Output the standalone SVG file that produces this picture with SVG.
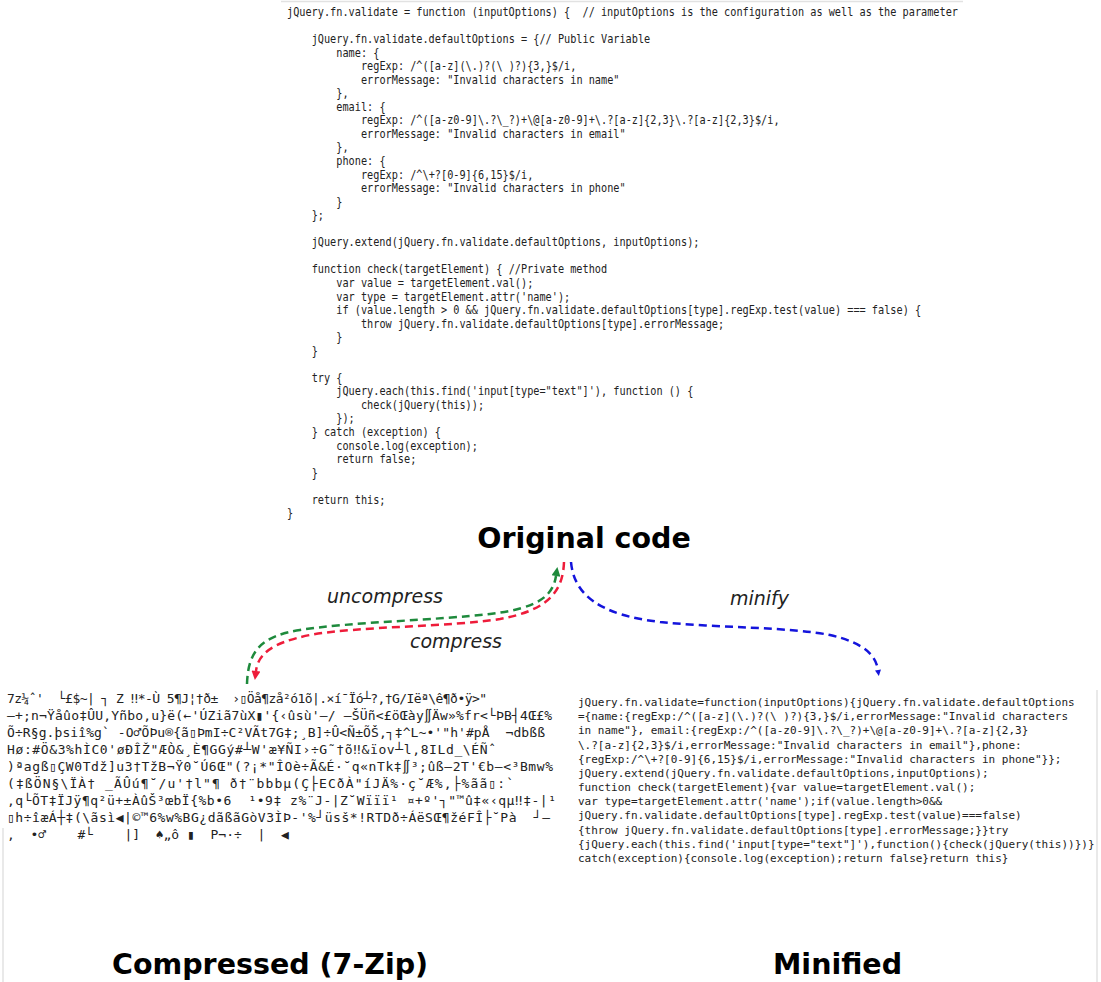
<svg xmlns="http://www.w3.org/2000/svg" width="1101" height="982" viewBox="0 0 1101 982" xml:space="preserve">
<style>
.code{font-family:"DejaVu Sans Mono","Liberation Mono",monospace;font-size:11.5px;fill:#222;white-space:pre}
.garb{font-family:"DejaVu Sans Mono","Liberation Mono",monospace;font-size:13px;fill:#222;white-space:pre}
.mini{font-family:"DejaVu Sans Mono","Liberation Mono",monospace;font-size:11px;fill:#222;white-space:pre}
.title{font-family:"DejaVu Sans","Liberation Sans",sans-serif;font-weight:bold;font-size:28.5px;fill:#000}
.lbl{font-family:"DejaVu Sans","Liberation Sans",sans-serif;font-style:italic;font-size:19px;fill:#222}
.edge{fill:none;stroke-width:2.5;stroke-dasharray:8 5}
.frame{stroke:#e2e2e2;stroke-width:1.5;fill:none}
</style>
<defs>
<marker id="mg" viewBox="0 0 10 10" refX="0" refY="5" markerWidth="12" markerHeight="9" markerUnits="userSpaceOnUse" orient="auto"><path d="M0,0 L10,5 L0,10 z" fill="#1e8a3c"/></marker>
<marker id="mr" viewBox="0 0 10 10" refX="0" refY="5" markerWidth="12" markerHeight="9" markerUnits="userSpaceOnUse" orient="auto"><path d="M0,0 L10,5 L0,10 z" fill="#ee1c3a"/></marker>
<marker id="mb" viewBox="0 0 10 10" refX="0" refY="5" markerWidth="12" markerHeight="6" markerUnits="userSpaceOnUse" orient="auto"><path d="M0,0 L10,5 L0,10 z" fill="#1414dc"/></marker>
</defs>
<rect width="1101" height="982" fill="#fff"/>
<line class="frame" x1="281" y1="1.5" x2="963" y2="1.5"/>
<line class="frame" x1="3" y1="828" x2="3" y2="982"/>
<line class="frame" x1="1097" y1="690" x2="1097" y2="982"/>

<g id="original-code">
<g transform="translate(287,0) scale(0.89,1)">
<text class="code" x="0" y="16">jQuery.fn.validate = function (inputOptions) {  // inputOptions is the configuration as well as the parameter</text>
<text class="code" x="27.7" y="43.1">jQuery.fn.validate.defaultOptions = {// Public Variable</text>
<text class="code" x="55.4" y="56.7">name: {</text>
<text class="code" x="83.1" y="70.2">regExp: /^([a-z](\.)?(\ )?){3,}$/i,</text>
<text class="code" x="83.1" y="83.8">errorMessage: "Invalid characters in name"</text>
<text class="code" x="55.4" y="97.3">},</text>
<text class="code" x="55.4" y="110.9">email: {</text>
<text class="code" x="83.1" y="124.4">regExp: /^([a-z0-9]\.?\_?)+\@[a-z0-9]+\.?[a-z]{2,3}\.?[a-z]{2,3}$/i,</text>
<text class="code" x="83.1" y="138">errorMessage: "Invalid characters in email"</text>
<text class="code" x="55.4" y="151.5">},</text>
<text class="code" x="55.4" y="165.1">phone: {</text>
<text class="code" x="83.1" y="178.6">regExp: /^\+?[0-9]{6,15}$/i,</text>
<text class="code" x="83.1" y="192.2">errorMessage: "Invalid characters in phone"</text>
<text class="code" x="55.4" y="205.7">}</text>
<text class="code" x="27.7" y="219.3">};</text>
<text class="code" x="27.7" y="246.4">jQuery.extend(jQuery.fn.validate.defaultOptions, inputOptions);</text>
<text class="code" x="27.7" y="273.5">function check(targetElement) { //Private method</text>
<text class="code" x="55.4" y="287">var value = targetElement.val();</text>
<text class="code" x="55.4" y="300.6">var type = targetElement.attr('name');</text>
<text class="code" x="55.4" y="314.1">if (value.length &gt; 0 &amp;&amp; jQuery.fn.validate.defaultOptions[type].regExp.test(value) === false) {</text>
<text class="code" x="83.1" y="327.7">throw jQuery.fn.validate.defaultOptions[type].errorMessage;</text>
<text class="code" x="55.4" y="341.2">}</text>
<text class="code" x="27.7" y="354.8">}</text>
<text class="code" x="27.7" y="381.9">try {</text>
<text class="code" x="55.4" y="395.4">jQuery.each(this.find('input[type="text"]'), function () {</text>
<text class="code" x="83.1" y="409">check(jQuery(this));</text>
<text class="code" x="55.4" y="422.5">});</text>
<text class="code" x="27.7" y="436.1">} catch (exception) {</text>
<text class="code" x="55.4" y="449.6">console.log(exception);</text>
<text class="code" x="55.4" y="463.2">return false;</text>
<text class="code" x="27.7" y="476.7">}</text>
<text class="code" x="27.7" y="503.8">return this;</text>
<text class="code" x="0" y="517.4">}</text>
</g>
<text class="title" x="584" y="548" text-anchor="middle">Original code</text>
</g>

<g id="connectors">
<path class="edge" stroke="#1e8a3c" d="M247,684 C248,650 262,636 300,630 C350,622 440,620 490,614 C540,608 553,595 556,576" marker-end="url(#mg)"/>
<path class="edge" stroke="#ee1c3a" d="M564,562 C563,590 550,610 500,619 C450,627 360,626 310,635 C270,643 258,655 256,671" marker-end="url(#mr)"/>
<path class="edge" stroke="#1414dc" stroke-width="3" d="M571,562 C574,595 600,615 660,622 C720,628 790,627 830,635 C865,643 876,656 878,670" marker-end="url(#mb)"/>
<text class="lbl" x="327" y="603">uncompress</text>
<text class="lbl" x="410" y="648">compress</text>
<text class="lbl" x="730" y="605">minify</text>
</g>

<g id="compressed">
<text class="garb" x="7" y="702.5" textLength="480" lengthAdjust="spacing">7z¼ˆ'  └£$~| ┐ Z ‼*-Ù 5¶J¦†ð±  ›▯Öå¶zå²ó1õ|.×í¯Ïó┴?,†G/Iëª\ê¶ð•ÿ&gt;"</text>
<text class="garb" x="7" y="719.6" textLength="545" lengthAdjust="spacing">—+;n¬Ÿåûo‡ÛU,Yñbo,u}ë(←'ÚZiã7ùX▮'{‹ûsù'–/ –ŠÜñ&lt;£öŒày∬Äw»%fr&lt;└ÞB┤4Œ£%</text>
<text class="garb" x="7" y="736.7" textLength="538" lengthAdjust="spacing">Õ÷R§g.þsiî%g` -O♂ÕÞu®{ã▯ÞmI÷C²VÃt7G‡;¸B]÷Û&lt;Ñ±ÕŠ,┐‡^L~•'"h'#pÅ  ¬dbßß</text>
<text class="garb" x="7" y="753.8" textLength="489" lengthAdjust="spacing">Hø:#Ö&amp;3%hÌC0'øÐÎŽ"ÆÒ&amp;¸È¶GGý#┴W'æ¥ÑI›÷G˜†õ‼&amp;ïov┴l,8ILd_\ÉÑˆ</text>
<text class="garb" x="7" y="770.9" textLength="546" lengthAdjust="spacing">)ªagß▯ÇW0Tdž]u3†TžB¬Ÿ0˘Ú6Œ"(?¡*"ÎOè÷Ã&amp;É·˘q«nTk‡∬³;ûß–2T'€b–&lt;³Bmw%</text>
<text class="garb" x="7" y="788" textLength="507" lengthAdjust="spacing">(‡ßÖN§\ÏÀ† _ÃÛú¶˘/u'†l"¶ ð†¨bbbµ(Ç├ECðÀ"íJÄ%·ç˘Æ%,├%ãã▯:`</text>
<text class="garb" x="7" y="805.1" textLength="549" lengthAdjust="spacing">,q└ÕT‡ÏJÿ¶q²ü+±ÀûŠ³œbÏ{%b•6  ¹•9‡ z%¨J-|Z˘Wïïï¹ ¤+º'┐"™û‡«‹qµ‼‡-|¹</text>
<text class="garb" x="7" y="822.2" textLength="543" lengthAdjust="spacing">▯h÷îæÁ┼‡(\ãsì◀|©™6%w%BG¿dãßãGòV3ÌÞ-'%┘üsš*!RTDð÷ÁëSŒ¶žéFÎ├˘Pà  ┘–</text>
<text class="garb" x="7" y="839.3">,  •♂    #└    |]  ♠„ô ▮  P¬·÷  |  ◀</text>
<text class="title" x="112" y="974">Compressed (7-Zip)</text>
</g>

<g id="minified">
<text class="mini" x="578" y="706">jQuery.fn.validate=function(inputOptions){jQuery.fn.validate.defaultOptions</text>
<text class="mini" x="578" y="720.2">={name:{regExp:/^([a-z](\.)?(\ )?){3,}$/i,errorMessage:"Invalid characters</text>
<text class="mini" x="578" y="734.4">in name"}, email:{regExp:/^([a-z0-9]\.?\_?)+\@[a-z0-9]+\.?[a-z]{2,3}</text>
<text class="mini" x="578" y="748.5">\.?[a-z]{2,3}$/i,errorMessage:"Invalid characters in email"},phone:</text>
<text class="mini" x="578" y="762.7">{regExp:/^\+?[0-9]{6,15}$/i,errorMessage:"Invalid characters in phone"}};</text>
<text class="mini" x="578" y="776.9">jQuery.extend(jQuery.fn.validate.defaultOptions,inputOptions);</text>
<text class="mini" x="578" y="791.1">function check(targetElement){var value=targetElement.val();</text>
<text class="mini" x="578" y="805.3">var type=targetElement.attr('name');if(value.length&gt;0&amp;&amp;</text>
<text class="mini" x="578" y="819.4">jQuery.fn.validate.defaultOptions[type].regExp.test(value)===false)</text>
<text class="mini" x="578" y="833.6">{throw jQuery.fn.validate.defaultOptions[type].errorMessage;}}try</text>
<text class="mini" x="578" y="847.8">{jQuery.each(this.find('input[type="text"]'),function(){check(jQuery(this))})}</text>
<text class="mini" x="578" y="862">catch(exception){console.log(exception);return false}return this}</text>
<text class="title" x="773" y="974">Minified</text>
</g>
</svg>
